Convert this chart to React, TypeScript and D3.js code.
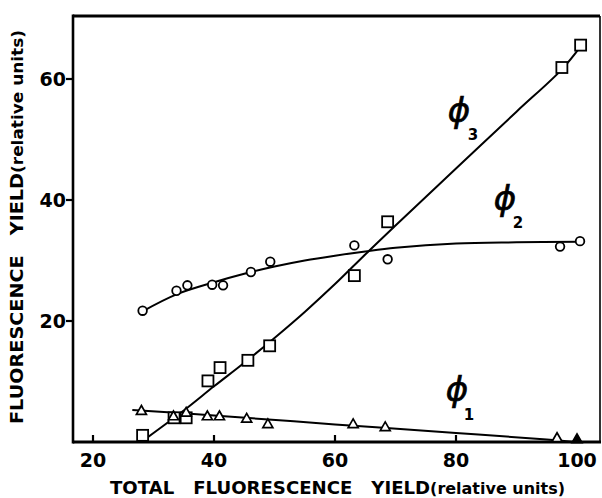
import React from "react";
import * as d3 from "d3";

// measured points
const phi2X = [28.2, 33.8, 35.6, 39.7, 41.5, 46.1, 49.3, 63.2, 68.7, 97.2, 100.5];
const phi2Y = [21.7, 25.0, 25.9, 26.0, 25.9, 28.1, 29.8, 32.5, 30.2, 32.3, 33.2];

const phi3X = [28.2, 33.4, 35.4, 39.0, 41.0, 45.6, 49.2, 63.2, 68.7, 97.5, 100.6];
const phi3Y = [1.1, 4.0, 4.0, 10.1, 12.3, 13.5, 15.9, 27.5, 36.4, 61.9, 65.6];

const phi1X = [28.0, 33.3, 35.4, 38.9, 40.9, 45.4, 48.9, 63.0, 68.3, 96.7, 100.0];
const phi1Y = [5.2, 4.3, 4.9, 4.3, 4.3, 3.9, 3.0, 3.0, 2.5, 0.7, 0.5];

// hand-drawn fitted curves
const fit3X = [28.8, 35, 40, 45, 50, 55, 60, 65, 70, 80, 90, 97.5, 100.6];
const fit3Y = [0.6, 5.2, 9.2, 13.1, 17.2, 21.5, 26.1, 31.0, 35.8, 45.2, 54.6, 61.6, 65.4];

const fit2X = [28.2, 33.8, 40, 45, 50, 55, 60, 65, 70, 80, 90, 100.5];
const fit2Y = [21.6, 24.4, 26.4, 27.8, 29.0, 30.0, 30.8, 31.5, 32.1, 32.8, 33.0, 33.1];

const fit1X = [26.5, 40, 60, 80, 95, 99.5];
const fit1Y = [5.3, 4.4, 2.9, 1.5, 0.4, 0.0];

const xTicks = [20, 40, 60, 80, 100];
const yTicks = [20, 40, 60];

const seriesLabels = ["1", "2", "3"];

const W = 602;
const H = 498;
const left = 73;
const right = 600;
const top = 16;
const bottom = 442;

const x = d3.scaleLinear().domain([20, 100]).range([93, 577]);
const y = d3.scaleLinear().domain([0, 60]).range([bottom, 79]);

const font = "'DejaVu Sans', 'Liberation Sans', sans-serif";

function zip(a: number[], b: number[]) {
  return a.map((v, i) => [v, b[i]] as [number, number]);
}

const line = d3
  .line<[number, number]>()
  .x((d) => x(d[0]))
  .y((d) => y(d[1]))
  .curve(d3.curveCatmullRom.alpha(0.5));

// label anchor positions (pixel) for phi glyph and its subscript
const labelPos: Record<string, { px: number; py: number; sx: number; sy: number }> = {
  "3": { px: 459, py: 122, sx: 473, sy: 140 },
  "2": { px: 505, py: 210, sx: 518, sy: 228 },
  "1": { px: 457, py: 401, sx: 469, sy: 420 },
};

export default function App() {
  const p1 = zip(phi1X, phi1Y);
  const p2 = zip(phi2X, phi2Y);
  const p3 = zip(phi3X, phi3Y);
  const tri = (cx: number, cy: number) => {
    const s = 5;
    return `M${cx},${cy - s}L${cx + s},${cy + s * 0.75}L${cx - s},${cy + s * 0.75}Z`;
  };
  return (
    <svg
      width={W}
      height={H}
      style={{ position: "absolute", left: 0, top: 0, background: "#fff" }}
    >
      <rect x={0} y={0} width={W} height={H} fill="#fff" />
      {/* frame */}
      <line x1={left} y1={top} x2={right} y2={top} stroke="#000" strokeWidth={3} />
      <line x1={left} y1={top - 1.5} x2={left} y2={bottom + 1.5} stroke="#000" strokeWidth={2.6} />
      <line x1={left} y1={bottom} x2={right + 1} y2={bottom} stroke="#000" strokeWidth={3} />
      <line x1={right} y1={top} x2={right} y2={bottom} stroke="#000" strokeWidth={1.6} />

      {/* x ticks (inward) */}
      {xTicks.map((t) => (
        <g key={"xt" + t}>
          <line x1={x(t)} x2={x(t)} y1={bottom} y2={bottom - 7} stroke="#000" strokeWidth={2.2} />
          <text
            x={x(t)}
            y={467}
            textAnchor="middle"
            fontFamily={font}
            fontWeight="bold"
            fontSize={19}
          >
            {t}
          </text>
        </g>
      ))}
      {/* y ticks (outward) */}
      {yTicks.map((t) => (
        <g key={"yt" + t}>
          <line x1={left} x2={left - 7} y1={y(t)} y2={y(t)} stroke="#000" strokeWidth={2.2} />
          <text
            x={66}
            y={y(t) + 7}
            textAnchor="end"
            fontFamily={font}
            fontWeight="bold"
            fontSize={19}
          >
            {t}
          </text>
        </g>
      ))}

      {/* axis titles */}
      <text
        x={110}
        y={494}
        fontFamily={font}
        fontWeight="bold"
        fontSize={17}
        textLength={455}
        lengthAdjust="spacingAndGlyphs"
      >
        TOTAL{"\u00a0\u00a0\u00a0"}FLUORESCENCE{"\u00a0\u00a0\u00a0"}YIELD
        <tspan fontSize={15}>(relative units)</tspan>
      </text>
      <text
        transform={`translate(23,424) rotate(-90)`}
        x={0}
        y={0}
        fontFamily={font}
        fontWeight="bold"
        fontSize={17}
        textLength={394}
        lengthAdjust="spacingAndGlyphs"
      >
        FLUORESCENCE{"\u00a0\u00a0\u00a0"}YIELD
        <tspan fontSize={15}>(relative units)</tspan>
      </text>

      {/* curves */}
      <path d={line(zip(fit3X, fit3Y)) || ""} fill="none" stroke="#000" strokeWidth={2} />
      <path d={line(zip(fit2X, fit2Y)) || ""} fill="none" stroke="#000" strokeWidth={2} />
      <path d={line(zip(fit1X, fit1Y)) || ""} fill="none" stroke="#000" strokeWidth={2} />

      {/* markers */}
      {p2.map((d, i) => (
        <circle key={"c" + i} cx={x(d[0])} cy={y(d[1])} r={4.3} fill="#fff" stroke="#000" strokeWidth={1.8} />
      ))}
      {p3.map((d, i) => (
        <rect
          key={"s" + i}
          x={x(d[0]) - 5.5}
          y={y(d[1]) - 5.5}
          width={11}
          height={11}
          fill="#fff"
          stroke="#000"
          strokeWidth={1.8}
        />
      ))}
      {p1.map((d, i) => (
        <path
          key={"t" + i}
          d={tri(x(d[0]), y(d[1]))}
          fill={i === p1.length - 1 ? "#000" : "#fff"}
          stroke="#000"
          strokeWidth={1.7}
        />
      ))}

      {/* series labels */}
      {seriesLabels.map((s) => {
        const l = labelPos[s];
        return (
          <g key={"lab" + s}>
            <text
              x={l.px}
              y={l.py}
              textAnchor="middle"
              fontFamily="'DejaVu Sans', sans-serif"
              fontStyle="italic"
              fontSize={34}
              stroke="#000"
              strokeWidth={0.7}
            >
              {"\u03d5"}
            </text>
            <text
              x={l.sx}
              y={l.sy}
              textAnchor="middle"
              fontFamily={font}
              fontWeight="bold"
              fontSize={15}
            >
              {s}
            </text>
          </g>
        );
      })}
    </svg>
  );
}
